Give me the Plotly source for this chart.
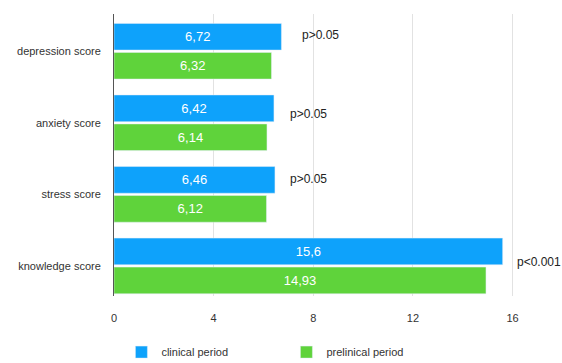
import plotly.graph_objects as go

categories = ["depression score", "anxiety score", "stress score", "knowledge score"]
clinical = [6.72, 6.42, 6.46, 15.6]
preclinical = [6.32, 6.14, 6.12, 14.93]
clinical_labels = ["6,72", "6,42", "6,46", "15,6"]
preclinical_labels = ["6,32", "6,14", "6,12", "14,93"]
p_labels = ["p>0.05", "p>0.05", "p>0.05", "p<0.001"]
p_x = [7.45, 7.0, 7.0, 16.1]
p_y = [-0.22, -0.12, -0.22, -0.05]

BLUE = "#0ea2fb"
GREEN = "#5fd33b"

fig = go.Figure()
fig.add_trace(go.Bar(
    y=categories, x=clinical, name="clinical period", orientation="h",
    marker_color=BLUE, text=clinical_labels, textposition="inside",
    insidetextanchor="middle", textfont=dict(color="white", size=13),
))
fig.add_trace(go.Bar(
    y=categories, x=preclinical, name="prelinical period", orientation="h",
    marker_color=GREEN, text=preclinical_labels, textposition="inside",
    insidetextanchor="middle", textfont=dict(color="white", size=13),
))

annotations = []
for i, (lab, xx, dy) in enumerate(zip(p_labels, p_x, p_y)):
    annotations.append(dict(x=xx, y=i + dy, xref="x", yref="y", text=lab,
                            showarrow=False, xanchor="left", yanchor="middle",
                            font=dict(size=12, color="#222")))

fig.update_layout(
    width=562, height=363,
    margin=dict(l=114, r=12, t=14, b=67, autoexpand=False),
    paper_bgcolor="white", plot_bgcolor="white",
    font=dict(family="Liberation Sans, Arial, sans-serif", size=11, color="#333"),
    barmode="group", bargap=0.19, bargroupgap=0.08,
    showlegend=True,
    legend=dict(orientation="h", x=0.017, xanchor="left",
                y=0.03, yref="container", yanchor="middle",
                font=dict(size=11, color="#333"), itemwidth=30,
                traceorder="normal", entrywidth=120),
    annotations=annotations,
    xaxis=dict(range=[0, 17.5], tickvals=[0, 4, 8, 12, 16], showgrid=True,
               gridcolor="#e2e2e2", gridwidth=1, zeroline=False, showline=False,
               ticks="", ticklabelstandoff=14, tickfont=dict(size=11, color="#333")),
    yaxis=dict(type="category", categoryorder="array", categoryarray=categories,
               range=[3.42, -0.52], showline=True, linecolor="#555", linewidth=1,
               ticks="", ticklabelstandoff=10, tickfont=dict(size=11, color="#333")),
)

fig.write_html("out.html")
